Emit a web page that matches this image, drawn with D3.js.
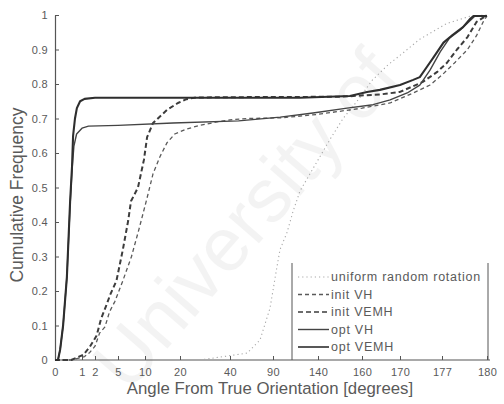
<!DOCTYPE html>
<html>
<head>
<meta charset="utf-8">
<script src="https://cdn.jsdelivr.net/npm/d3@7"></script>
<style>
  html, body { margin: 0; padding: 0; background: #fff; }
  svg { display: block; font-family: "Liberation Sans", Arial, sans-serif; }
</style>
</head>
<body>
<svg id="chart" width="504" height="404"></svg>
<script>
// Tick positions on the angle axis (degrees); spacing is non-uniform.
const xTicks = [0, 1, 2, 5, 10, 20, 40, 90, 140, 160, 170, 177, 180];
const yTicks = [0, 0.1, 0.2, 0.3, 0.4, 0.5, 0.6, 0.7, 0.8, 0.9, 1];

// Cumulative frequency curves: [angle in degrees, cumulative fraction]
const uniformRandom = [
  [28, 0], [60, 0.02], [74.9, 0.058], [86.5, 0.15], [94.4, 0.27], [97.8, 0.32],
  [105.6, 0.37], [112.2, 0.43], [120, 0.49], [145.5, 0.64], [151.4, 0.70],
  [159, 0.76], [162.6, 0.81], [166.8, 0.855], [170.5, 0.89], [173.3, 0.93],
  [175.3, 0.95], [177.3, 0.975], [178.9, 0.997], [180, 1]
];
const initVH = [
  [0, 0], [0.6, 0], [1.2, 0.01], [1.6, 0.022], [2, 0.04], [2.6, 0.078],
  [3.3, 0.096], [3.9, 0.14], [4.6, 0.17], [5.9, 0.23], [7.5, 0.3], [8.9, 0.38],
  [10.6, 0.47], [12.3, 0.54], [14.3, 0.59], [16.3, 0.63], [18.5, 0.655],
  [22.8, 0.67], [28, 0.68], [34.8, 0.69], [40, 0.696], [60, 0.70], [100, 0.702],
  [140, 0.712], [160, 0.73], [167.4, 0.745], [172.2, 0.774], [175, 0.797],
  [177, 0.826], [177.9, 0.864], [178.7, 0.9], [179.3, 0.94], [179.8, 0.985], [180, 0.997]
];
const initVEMH = [
  [0, 0], [0.6, 0], [1.1, 0.015], [1.6, 0.038], [2.2, 0.07], [2.8, 0.12],
  [3.4, 0.154], [4, 0.19], [4.8, 0.23], [5.9, 0.32], [6.9, 0.405], [7.4, 0.46],
  [8.7, 0.50], [9.8, 0.58], [10.6, 0.646], [12.3, 0.687], [16.3, 0.725],
  [19.4, 0.745], [22.6, 0.756], [26.4, 0.761], [60, 0.762], [150, 0.763],
  [165, 0.77], [170, 0.777], [173.8, 0.806], [176.2, 0.835], [177.3, 0.86],
  [178, 0.9], [178.7, 0.936], [179.3, 0.98], [179.8, 0.994], [180, 0.997]
];
const optVH = [
  [0, 0], [0.11, 0], [0.19, 0.03], [0.3, 0.1], [0.44, 0.24], [0.56, 0.45],
  [0.63, 0.55], [0.7, 0.62], [0.8, 0.655], [1.0, 0.672], [1.5, 0.678], [5, 0.68],
  [18, 0.687], [50, 0.693], [98, 0.704], [134.4, 0.716], [153.2, 0.73],
  [162.9, 0.74], [167.4, 0.754], [171.2, 0.774], [173.3, 0.797], [175, 0.84],
  [176.7, 0.893], [177.5, 0.933], [178.2, 0.956], [178.9, 0.985], [179.2, 0.997], [180, 0.997]
];
const optVEMH = [
  [0, 0], [0.11, 0], [0.19, 0.03], [0.3, 0.1], [0.44, 0.24], [0.56, 0.46],
  [0.63, 0.56], [0.67, 0.65], [0.74, 0.70], [0.81, 0.73], [0.93, 0.75],
  [1.2, 0.757], [2, 0.76], [120, 0.76], [154.5, 0.765], [161.3, 0.777],
  [164.7, 0.783], [170, 0.797], [172.2, 0.812], [173.3, 0.82], [174.5, 0.85],
  [175.5, 0.875], [177.1, 0.92], [177.7, 0.942], [178.4, 0.965], [178.9, 0.99],
  [179.1, 0.997], [180, 0.997]
];

const seriesNames = ["uniform random rotation", "init VH", "init VEMH", "opt VH", "opt VEMH"];
const seriesData = [uniformRandom, initVH, initVEMH, optVH, optVEMH];

// Line appearance per series
const styles = [
  { stroke: "#a8a8a8", width: 1.1, dash: "1.2,3" },
  { stroke: "#5a5a5a", width: 1.3, dash: "4,3" },
  { stroke: "#3c3c3c", width: 2.0, dash: "5,3" },
  { stroke: "#444", width: 1.4, dash: null },
  { stroke: "#2e2e2e", width: 2.1, dash: null }
];

const svg = d3.select("#chart");

// Faint watermark behind the plot
svg.append("text")
  .attr("transform", "translate(128,394) rotate(-49)")
  .attr("font-size", 76)
  .attr("font-family", "Liberation Sans, Arial, sans-serif")
  .attr("fill", "#000")
  .attr("opacity", 0.045)
  .text("University of");

const x = d3.scaleLinear().domain(xTicks).range([55, 82, 95, 118, 145, 180, 230, 273, 318, 362, 400, 442, 487]);
const y = d3.scaleLinear().domain([0, 1]).range([360, 15]);

const axisColor = "#555";
const textColor = "#5a5a5a";

// X axis with inward ticks
const gx = svg.append("g").attr("transform", `translate(0,${y(0)})`)
  .call(d3.axisBottom(x).tickValues(xTicks).tickSizeInner(-4).tickSizeOuter(0).tickPadding(8).tickFormat(d3.format("d")));
gx.select(".domain").attr("stroke", axisColor).attr("stroke-width", 1.2).attr("d", `M${x(0)},0H490`);
gx.selectAll(".tick line").attr("stroke", axisColor);
gx.selectAll(".tick text").attr("fill", textColor).attr("font-size", 11).attr("letter-spacing", 0.3)
  .attr("font-family", "Liberation Sans, Arial, sans-serif");

// Y axis with inward ticks
const gy = svg.append("g").attr("transform", `translate(${x(0)},0)`)
  .call(d3.axisLeft(y).tickValues(yTicks).tickSizeInner(-4).tickSizeOuter(0).tickPadding(7)
    .tickFormat(d => (d === 0 || d === 1) ? String(d) : d3.format(".1f")(d)));
gy.select(".domain").attr("stroke", axisColor).attr("stroke-width", 1.2);
gy.selectAll(".tick line").attr("stroke", axisColor);
gy.selectAll(".tick text").attr("fill", textColor).attr("font-size", 11).attr("letter-spacing", 0.3)
  .attr("font-family", "Liberation Sans, Arial, sans-serif");

// Axis titles
svg.append("text")
  .attr("x", 270).attr("y", 394)
  .attr("text-anchor", "middle")
  .attr("font-size", 16.8)
  .attr("fill", textColor)
  .text("Angle From True Orientation [degrees]");

svg.append("text")
  .attr("transform", "translate(23,195) rotate(-90)")
  .attr("text-anchor", "middle")
  .attr("font-size", 17.5)
  .attr("fill", textColor)
  .text("Cumulative Frequency");

// Curves
const line = d3.line().x(d => x(d[0])).y(d => y(d[1]));
const plot = svg.append("g");
seriesData.forEach((data, i) => {
  const s = styles[i];
  plot.append("path")
    .datum(data)
    .attr("fill", "none")
    .attr("stroke", s.stroke)
    .attr("stroke-width", s.width)
    .attr("stroke-dasharray", s.dash)
    .attr("stroke-linejoin", "round")
    .attr("d", line);
});

// Legend
const lg = svg.append("g");
lg.append("line").attr("x1", 292).attr("x2", 292).attr("y1", 263).attr("y2", 360)
  .attr("stroke", axisColor).attr("stroke-width", 1);
lg.append("line").attr("x1", 488).attr("x2", 488).attr("y1", 263).attr("y2", 360)
  .attr("stroke", axisColor).attr("stroke-width", 1);
seriesNames.forEach((name, i) => {
  const yy = 277 + i * 17.5;
  const s = styles[i];
  lg.append("line")
    .attr("x1", 298).attr("x2", 329).attr("y1", yy).attr("y2", yy)
    .attr("stroke", s.stroke).attr("stroke-width", Math.min(s.width, 1.6))
    .attr("stroke-dasharray", s.dash);
  lg.append("text")
    .attr("x", 331).attr("y", yy + 4)
    .attr("font-size", 12.5)
    .attr("letter-spacing", 0.75)
    .attr("fill", textColor)
    .text(name);
});
</script>
</body>
</html>
